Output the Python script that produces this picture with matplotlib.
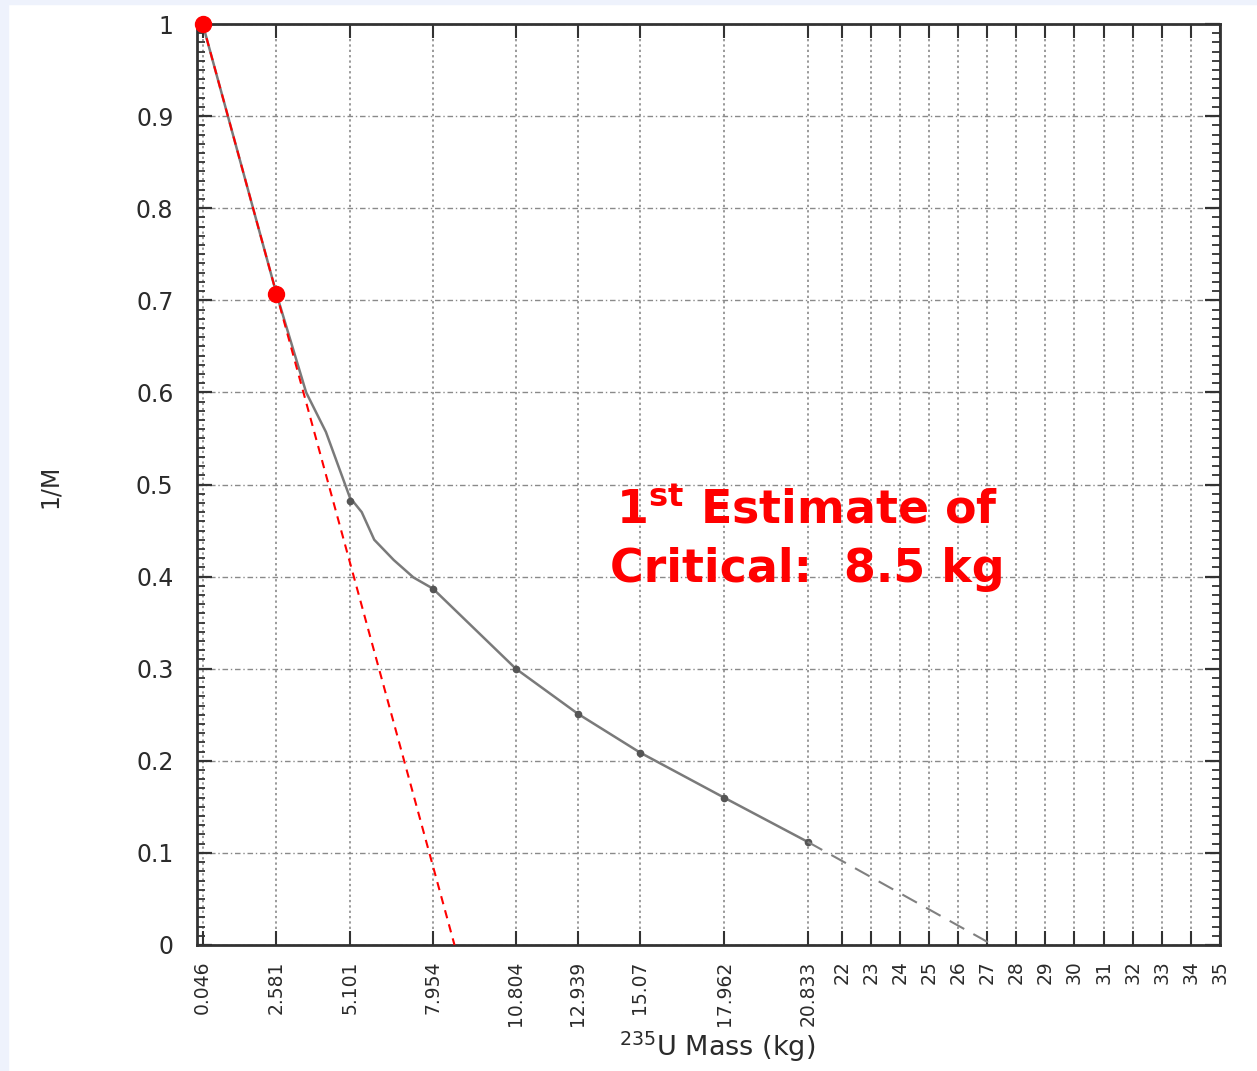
import matplotlib
matplotlib.use("Agg")
import matplotlib.pyplot as plt
import numpy as np
from matplotlib.patches import Rectangle
from matplotlib.ticker import MultipleLocator

# x tick positions / labels as printed on the original graph
tick_labels = ["0.046", "2.581", "5.101", "7.954", "10.804", "12.939", "15.07",
               "17.962", "20.833"] + [str(v) for v in range(22, 36)]
tick_mass = [float(s) for s in tick_labels]

y_labels = ["0", "0.1", "0.2", "0.3", "0.4", "0.5", "0.6", "0.7", "0.8", "0.9", "1"]

# measured 1/M points (marked)
mass = [5.101, 7.954, 10.804, 12.939, 15.07, 17.962, 20.833]
inv_m = [0.482, 0.387, 0.300, 0.251, 0.209, 0.160, 0.112]

# hand-drawn curve through the points
curve_mass = [0.046, 2.581, 3.6, 4.28, 5.101, 5.51, 5.94, 6.61, 7.29, 7.954,
              10.804, 12.939, 15.07, 17.962, 20.833]
curve_inv = [1.0, 0.707, 0.600, 0.557, 0.486, 0.470, 0.440, 0.418, 0.399,
             0.387, 0.300, 0.251, 0.209, 0.160, 0.112]

# hand-drawn extrapolation of the last points
extrap_mass = [20.833, 27.2]
extrap_inv = [0.112, 0.0]

# first two points used for the first estimate
first_mass = [0.046, 2.581]
first_inv = [1.0, 0.707]

W, H = 1257, 1071
fig = plt.figure(figsize=(W / 100, H / 100), dpi=100)
fig.add_artist(Rectangle((0, 1 - 4 / H), 1, 4 / H, transform=fig.transFigure,
                         color="#eef2fc", zorder=-1))
fig.add_artist(Rectangle((0, 0), 8 / W, 1, transform=fig.transFigure,
                         color="#eef2fc", zorder=-1))

ax = fig.add_axes([197 / W, 1 - 945 / H, 1023 / W, 921 / H])
ax.set_xlim(-0.15, 35.0)
ax.set_ylim(0, 1)

ax.set_xticks(tick_mass)
ax.set_xticklabels(tick_labels, rotation=90, fontsize=13.5, color="#2b2b2b")
ax.set_yticks(np.arange(0, 1.01, 0.1))
ax.set_yticklabels(y_labels, fontsize=17, color="#2b2b2b")
ax.yaxis.set_minor_locator(MultipleLocator(0.01))

ax.tick_params(axis="both", which="both", direction="in", top=True, right=True,
               color="#333333")
ax.tick_params(axis="x", which="major", length=10, width=1.5, pad=11)
ax.tick_params(axis="y", which="major", length=11, width=1.6, pad=17)
ax.tick_params(axis="y", which="minor", length=6, width=1.3)
for s in ax.spines.values():
    s.set_color("#333333")
    s.set_linewidth(2)

ax.grid(True, axis="x", color="#7f7f7f", linestyle=(0, (1.5, 2)), lw=1.1)
ax.grid(True, axis="y", which="major", color="#8a8a8a", linestyle=(0, (4, 2, 1, 2)), lw=1)
ax.set_axisbelow(True)

ax.plot(curve_mass, curve_inv, color="#7a7a7a", lw=1.8, zorder=3)
ax.plot(mass, inv_m, "o", color="#555555", ms=4.5, zorder=3)
ax.plot(extrap_mass, extrap_inv, color="#808080", lw=1.5, linestyle=(0, (8, 5)), zorder=3)

# straight line through the first two points, down to 1/M = 0
slope = (first_inv[1] - first_inv[0]) / (first_mass[1] - first_mass[0])
critical = first_mass[0] - first_inv[0] / slope
ax.plot([first_mass[0], critical], [first_inv[0], 0], color="red", lw=1.5,
        linestyle=(0, (4, 3)), zorder=4, clip_on=False)
ax.plot(first_mass, first_inv, "o", color="red", ms=11.5, zorder=5, clip_on=False)

ax.text(0.5963, 0.458, r"1$^{\mathbf{st}}$ Estimate of", transform=ax.transAxes,
        ha="center", va="baseline", color="red", fontsize=33, fontweight="bold")
ax.text(0.5963, 0.394, "Critical:  8.5 kg", transform=ax.transAxes,
        ha="center", va="baseline", color="red", fontsize=33, fontweight="bold")

ax.set_ylabel("1/M", fontsize=17, color="#2b2b2b")
ax.yaxis.set_label_coords(-0.132, 0.498)
ax.set_xlabel(r"$^{235}$U Mass (kg)", fontsize=19.5, color="#2b2b2b")
ax.xaxis.set_label_coords(0.508, -0.092)

fig.savefig("out.png", dpi=100)
